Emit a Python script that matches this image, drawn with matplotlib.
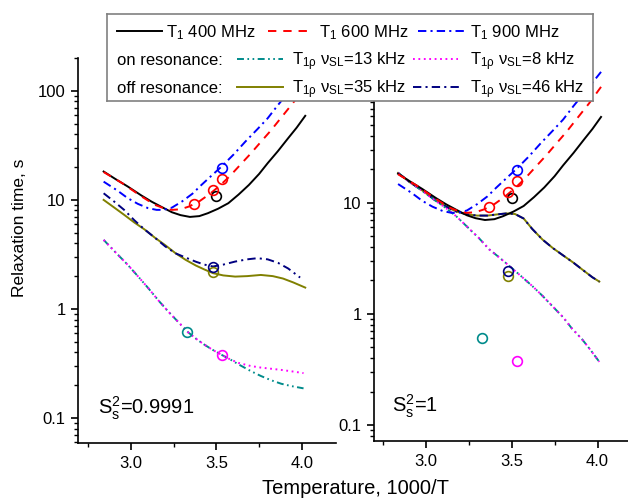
import matplotlib
matplotlib.use('Agg')
import matplotlib.pyplot as plt
from matplotlib.ticker import FixedLocator, FixedFormatter, LogLocator, NullFormatter

plt.rcParams['font.family'] = ['Liberation Sans', 'DejaVu Sans']
plt.rcParams['mathtext.default'] = 'regular'
plt.rcParams['lines.scale_dashes'] = False

# x = 1000/T, y = relaxation time (s)
# T1 curves (same in both panels)
t1_400_x = [2.84, 2.91, 2.98, 3.06, 3.12, 3.18, 3.24, 3.29, 3.345, 3.40, 3.45, 3.51, 3.57,
            3.63, 3.69, 3.75, 3.80, 3.86, 3.92, 3.97, 4.02]
t1_400_y = [18.2, 15.5, 13.3, 11.0, 9.65, 8.6, 7.7, 7.25, 6.98, 7.1, 7.55, 8.3, 9.33,
            11.2, 13.7, 17.3, 21.7, 28.0, 36.8, 46.0, 59.0]
t1_600_x = [2.84, 2.95, 3.06, 3.14, 3.20, 3.24, 3.29, 3.34, 3.40, 3.46, 3.52, 3.58, 3.64,
            3.70, 3.76, 3.82, 3.88, 3.95, 4.02]
t1_600_y = [18.0, 14.2, 10.8, 9.0, 8.3, 8.1, 8.2, 8.7, 9.7, 11.3, 13.5, 16.6, 21.0,
            26.5, 34.0, 43.5, 57.0, 78.0, 110.0]
t1_900_x = [2.84, 2.92, 2.98, 3.04, 3.10, 3.15, 3.19, 3.24, 3.30, 3.36, 3.41, 3.47, 3.53,
            3.60, 3.67, 3.74, 3.80, 3.86, 3.94, 4.02]
t1_900_y = [14.7, 12.2, 10.4, 9.2, 8.4, 8.1, 8.1, 8.5, 9.7, 11.4, 13.6, 16.6, 20.2,
            26.0, 34.3, 44.5, 56.0, 74.0, 105.0, 150.0]

# T1rho, S2 = 0.9991 (left panel)
left_13_x = [2.84, 2.91, 2.98, 3.04, 3.10, 3.16, 3.22, 3.28, 3.335, 3.39, 3.43, 3.48, 3.53,
             3.58, 3.63, 3.70, 3.76, 3.82, 3.88, 3.94, 4.01]
left_13_y = [4.3, 3.3, 2.55, 2.0, 1.56, 1.2, 0.94, 0.75, 0.61, 0.52, 0.47, 0.42, 0.38,
             0.345, 0.31, 0.27, 0.243, 0.222, 0.206, 0.196, 0.187]
left_8_x = [2.84, 2.91, 2.98, 3.04, 3.10, 3.16, 3.22, 3.28, 3.335, 3.39, 3.43, 3.48, 3.53,
            3.58, 3.63, 3.70, 3.76, 3.82, 3.88, 3.94, 4.01]
left_8_y = [4.3, 3.3, 2.55, 2.0, 1.56, 1.2, 0.94, 0.75, 0.61, 0.52, 0.47, 0.42, 0.38,
            0.345, 0.32, 0.30, 0.29, 0.283, 0.276, 0.268, 0.258]
left_35_x = [2.84, 2.90, 2.96, 3.02, 3.08, 3.14, 3.20, 3.26, 3.32, 3.38, 3.43, 3.48, 3.54,
             3.61, 3.68, 3.76, 3.83, 3.89, 3.95, 4.02]
left_35_y = [10.0, 8.55, 7.3, 6.2, 5.35, 4.5, 3.85, 3.25, 2.82, 2.5, 2.3, 2.13, 2.03,
             1.98, 2.0, 2.05, 2.0, 1.9, 1.75, 1.57]
left_46_x = [2.84, 2.90, 2.96, 3.02, 3.08, 3.14, 3.20, 3.26, 3.32, 3.38, 3.43, 3.48, 3.54,
             3.61, 3.68, 3.74, 3.80, 3.86, 3.92, 3.99]
left_46_y = [11.5, 9.7, 8.1, 6.5, 5.35, 4.5, 3.75, 3.24, 2.96, 2.71, 2.55, 2.45, 2.55,
             2.72, 2.85, 2.92, 2.85, 2.65, 2.35, 1.94]

# T1rho, S2 = 1 (right panel): on- and off-resonance pairs lie on top of each other
right_on_x = [2.84, 2.91, 2.98, 3.05, 3.12, 3.18, 3.24, 3.31, 3.37, 3.43, 3.49, 3.56, 3.62,
              3.68, 3.74, 3.80, 3.85, 3.91, 3.96, 4.01]
right_on_y = [18.5, 15.2, 12.8, 10.6, 8.9, 7.5, 6.1, 4.8, 3.8, 3.2, 2.67, 2.15, 1.78,
              1.45, 1.16, 0.93, 0.74, 0.59, 0.47, 0.37]
right_off_x = [2.84, 2.91, 2.98, 3.05, 3.12, 3.18, 3.24, 3.30, 3.36, 3.42, 3.47, 3.52, 3.57,
               3.62, 3.68, 3.74, 3.80, 3.86, 3.92, 3.97, 4.01]
right_off_y = [18.5, 15.2, 12.9, 10.7, 9.2, 8.3, 7.85, 7.65, 7.65, 7.85, 8.0, 7.9, 7.2,
               5.8, 4.65, 3.9, 3.35, 2.88, 2.44, 2.13, 1.95]

# measured points (open circles, same in both panels)
pt_400_x, pt_400_y = [3.50], [10.9]
pt_600_x, pt_600_y = [3.37, 3.48, 3.53], [9.1, 12.4, 15.5]
pt_900_x, pt_900_y = [3.53], [19.8]
pt_13_x, pt_13_y = [3.33], [0.61]
pt_8_x, pt_8_y = [3.53], [0.376]
pt_35_x, pt_35_y = [3.48], [2.18]
pt_46_x, pt_46_y = [3.48], [2.43]

xticks = [3.0, 3.5, 4.0]
xtick_labels = ['3.0', '3.5', '4.0']
yticks = [0.1, 1, 10, 100]
ytick_labels_left = ['0.1', '1', '10', '100']
ytick_labels_right = ['0.1', '1', '10', '']   # 100 sits under the legend box

styles = {
    '400': dict(color='black', ls='-'),
    '600': dict(color='#ff0000', ls=(0, (6, 5))),
    '900': dict(color='#0000ff', ls=(0, (6, 3, 1.5, 3))),
    '13': dict(color='#008b8b', ls=(0, (5, 2.5, 1.2, 2.5, 1.2, 2.5))),
    '8': dict(color='#ff00ff', ls=(0, (1.3, 2.6))),
    '35': dict(color='#808000', ls='-'),
    '46': dict(color='#000080', ls=(0, (6, 3, 1.5, 3))),
}
LW = 1.4

W, H = 628, 499
fig = plt.figure(figsize=(W / 100, H / 100), dpi=100)


def px_axes(x0, x1, y0, y1):
    return fig.add_axes([x0 / W, 1 - y1 / H, (x1 - x0) / W, (y1 - y0) / H])


def setup(ax, xlim, ylim, ylabels):
    ax.set_yscale('log')
    ax.set_xlim(*xlim)
    ax.set_ylim(*ylim)
    for s in ['top', 'right']:
        ax.spines[s].set_visible(False)
    for s in ['left', 'bottom']:
        ax.spines[s].set_linewidth(1.2)
    ax.xaxis.set_major_locator(FixedLocator(xticks))
    ax.xaxis.set_major_formatter(FixedFormatter(xtick_labels))
    ax.xaxis.set_minor_locator(FixedLocator([2.75, 3.25, 3.75]))
    ax.yaxis.set_major_locator(FixedLocator(yticks))
    ax.yaxis.set_major_formatter(FixedFormatter(ylabels))
    ax.yaxis.set_minor_locator(LogLocator(subs=range(2, 10)))
    ax.yaxis.set_minor_formatter(NullFormatter())
    ax.tick_params(which='major', direction='out', length=5, width=1.2, labelsize=12, pad=4)
    ax.tick_params(which='minor', direction='out', length=3, width=1.0)


def curve(ax, x, y, key):
    ax.plot(x, y, lw=LW, **styles[key])


def dots(ax, x, y, key):
    ax.plot(x, y, 'o', ms=7, mfc='none', mew=1.2, color=styles[key]['color'])


def t1_and_points(ax):
    curve(ax, t1_400_x, t1_400_y, '400')
    curve(ax, t1_600_x, t1_600_y, '600')
    curve(ax, t1_900_x, t1_900_y, '900')
    dots(ax, pt_400_x, pt_400_y, '400')
    dots(ax, pt_600_x, pt_600_y, '600')
    dots(ax, pt_900_x, pt_900_y, '900')
    dots(ax, pt_13_x, pt_13_y, '13')
    dots(ax, pt_8_x, pt_8_y, '8')
    dots(ax, pt_35_x, pt_35_y, '35')
    dots(ax, pt_46_x, pt_46_y, '46')


# left panel, S2 = 0.9991
ax1 = px_axes(78, 336, 58, 443)
setup(ax1, (2.69, 4.2), (0.059, 200), ytick_labels_left)
curve(ax1, left_35_x, left_35_y, '35')
curve(ax1, left_46_x, left_46_y, '46')
curve(ax1, left_13_x, left_13_y, '13')
curve(ax1, left_8_x, left_8_y, '8')
t1_and_points(ax1)
ax1.text(98 / W, 1 - 408 / H, 'S$_s^2$=0.9991', transform=fig.transFigure,
         fontsize=14.5, va='center', ha='left')

# right panel, S2 = 1
ax2 = px_axes(374, 632, 58, 441)
setup(ax2, (2.70, 4.2), (0.0718, 200), ytick_labels_right)
curve(ax2, right_off_x, right_off_y, '35')
curve(ax2, right_off_x, right_off_y, '46')
curve(ax2, right_on_x, right_on_y, '13')
curve(ax2, right_on_x, right_on_y, '8')
t1_and_points(ax2)
ax2.text(392 / W, 1 - 406 / H, 'S$_s^2$=1', transform=fig.transFigure,
         fontsize=14.5, va='center', ha='left')

fig.text(20 / W, 1 - 228 / H, 'Relaxation time, s', rotation=90,
         fontsize=12.5, ha='center', va='center')
fig.text(355 / W, 1 - 488 / H, 'Temperature, 1000/T', fontsize=14.5,
         ha='center', va='center')

# hand-laid legend box (pixel coordinates of the box)
lax = px_axes(107, 593, 14, 101)
lax.set_xlim(107, 593)
lax.set_ylim(101, 14)
lax.set_xticks([])
lax.set_yticks([])
for s in lax.spines.values():
    s.set_color('#808080')
    s.set_linewidth(1.2)

rho = 'T$_{1ρ}$ ν$_{SL}$'
legend_rows = [
    (31, None, [('400', 117, 162, 166, 'T$_1$ 400 MHz'),
                ('600', 268, 308, 319, 'T$_1$ 600 MHz'),
                ('900', 418, 465, 470, 'T$_1$ 900 MHz')]),
    (59, 'on resonance:', [('13', 237, 283, 292, rho + '=13 kHz'),
                           ('8', 413, 458, 470, rho + '=8 kHz')]),
    (87, 'off resonance:', [('35', 237, 283, 292, rho + '=35 kHz'),
                            ('46', 413, 460, 470, rho + '=46 kHz')]),
]
for y, head, entries in legend_rows:
    if head:
        lax.text(117, y + 6, head, fontsize=12, va='baseline', ha='left')
    for key, h0, h1, tx, label in entries:
        lax.plot([h0, h1], [y, y], lw=LW, **styles[key])
        lax.text(tx, y + 6, label, fontsize=12, va='baseline', ha='left')

fig.savefig('out.png', dpi=100)
